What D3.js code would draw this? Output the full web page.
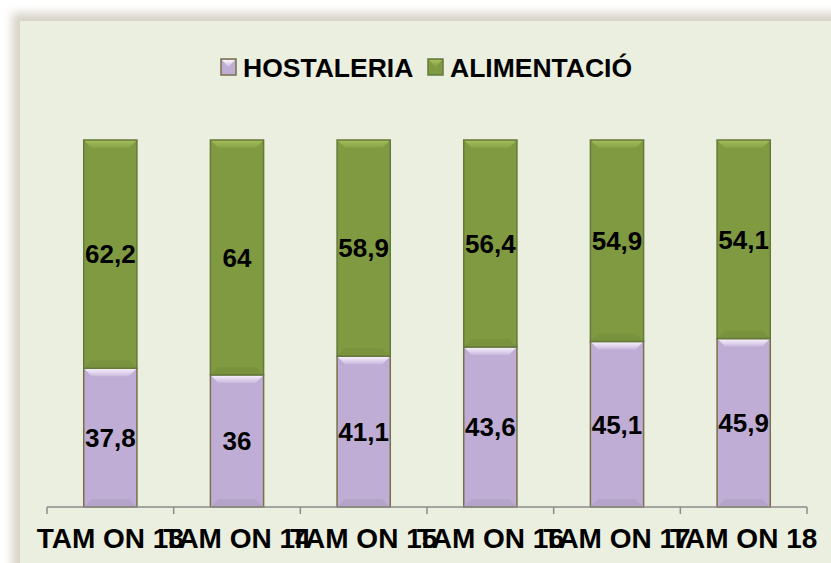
<!DOCTYPE html>
<html lang="en">
    <head>
        <meta charset="utf-8">
        <title>Hostaleria vs Alimentació</title>
        <script type="text/javascript" src="https://cdn.jsdelivr.net/npm/d3@7/dist/d3.min.js"></script>
        <style>
            body { margin: 0; background: #fff; }
            text { font-family: "Liberation Sans", Arial, sans-serif; font-weight: bold; fill: #000; }
        </style>
    </head>
    <body>
        <svg id="chart" width="831" height="563"></svg>
    </body>
    <script>
        // data
        let categories = ["TAM ON 13", "TAM ON 14", "TAM ON 15", "TAM ON 16", "TAM ON 17", "TAM ON 18"];
        let hostaleria = [37.8, 36, 41.1, 43.6, 45.1, 45.9];
        let alimentacio = [62.2, 64, 58.9, 56.4, 54.9, 54.1];
        let seriesNames = ["HOSTALERIA", "ALIMENTACIÓ"];

        let svg = d3.select("#chart");
        let defs = svg.append("defs");

        // soft shadow round the chart area
        let f = defs.append("filter").attr("id", "shadow")
                    .attr("x", "-10%").attr("y", "-10%").attr("width", "120%").attr("height", "120%");
        f.append("feGaussianBlur").attr("stdDeviation", 5);

        function vGrad(id, stops) {
            let g = defs.append("linearGradient").attr("id", id)
                        .attr("x1", 0).attr("y1", 0).attr("x2", 0).attr("y2", 1);
            stops.forEach(s => g.append("stop").attr("offset", s[0]).attr("stop-color", s[1]));
        }
        vGrad("bevelPurple", [[0, "#fbf6ff"], [1, "#c9b9de"]]);
        vGrad("bevelGreen", [[0, "#a6c05c"], [1, "#86a045"]]);

        svg.append("rect").attr("x", 12).attr("y", 13).attr("width", 840).attr("height", 580)
            .attr("fill", "#d8d3c8").attr("filter", "url(#shadow)");
        svg.append("rect").attr("x", 20).attr("y", 21).attr("width", 820).attr("height", 560)
            .attr("fill", "#ebefdf");

        // scales
        let x = d3.scaleBand().domain(categories).range([47, 807]).padding(0);
        let y = d3.scaleLinear().domain([0, 100]).range([507, 140]);
        let barW = x.bandwidth() * 0.42;

        let stack = categories.map((c, i) => ({
            cat: c,
            segs: [
                {key: 0, y0: 0, y1: hostaleria[i], v: hostaleria[i]},
                {key: 1, y0: hostaleria[i], y1: hostaleria[i] + alimentacio[i], v: alimentacio[i]}
            ]
        }));

        let fills = ["#bfadd5", "#809a42"];
        let edges = ["#77704a", "#65793a"];
        let bevels = ["url(#bevelPurple)", "url(#bevelGreen)"];

        let groups = svg.append("g").selectAll("g").data(stack).enter().append("g");

        groups.each(function(d) {
            let bx = x(d.cat) + (x.bandwidth() - barW) / 2;
            let g = d3.select(this);
            d.segs.forEach(s => {
                let top = y(s.y1), bot = y(s.y0), b = 8;
                g.append("rect").attr("x", bx).attr("y", top).attr("width", barW).attr("height", bot - top)
                    .attr("fill", fills[s.key]);
                // top bevel
                g.append("polygon")
                    .attr("points", [[bx, top], [bx + barW, top], [bx + barW - b, top + b], [bx + b, top + b]].join(" "))
                    .attr("fill", bevels[s.key]);
                // bottom bevel (slightly darker)
                g.append("polygon")
                    .attr("points", [[bx, bot], [bx + barW, bot], [bx + barW - b, bot - b], [bx + b, bot - b]].join(" "))
                    .attr("fill", "#000").attr("opacity", 0.05);
                g.append("rect").attr("x", bx).attr("y", top).attr("width", barW).attr("height", bot - top)
                    .attr("fill", "none").attr("stroke", edges[s.key]).attr("stroke-width", 1.5);
                g.append("text")
                    .attr("x", x(d.cat) + x.bandwidth() / 2)
                    .attr("y", (top + bot) / 2)
                    .attr("dy", "0.36em")
                    .attr("text-anchor", "middle")
                    .attr("font-size", 26)
                    .text(String(s.v).replace(".", ","));
            });
        });

        // x axis
        let axis = svg.append("g").attr("stroke", "#8c8c8c").attr("stroke-width", 1.5);
        axis.append("line").attr("x1", 47).attr("x2", 807).attr("y1", 507).attr("y2", 507);
        let ticks = categories.map(c => x(c)).concat([x.range()[1]]);
        axis.selectAll("line.t").data(ticks).enter().append("line")
            .attr("x1", d => d).attr("x2", d => d).attr("y1", 507).attr("y2", 514);

        svg.append("g").selectAll("text").data(categories).enter().append("text")
            .attr("x", d => x(d) + x.bandwidth() / 2)
            .attr("y", 538)
            .attr("dy", "0.36em")
            .attr("text-anchor", "middle")
            .attr("font-size", 28)
            .text(d => d);

        // legend
        let legend = svg.append("g");
        let legX = [221, 428];
        seriesNames.forEach((n, i) => {
            legend.append("rect").attr("x", legX[i]).attr("y", 59).attr("width", 15).attr("height", 16)
                .attr("fill", fills[i]).attr("stroke", edges[i]).attr("stroke-width", 1.5);
            legend.append("polygon")
                .attr("points", [[legX[i] + 1, 60], [legX[i] + 14, 60], [legX[i] + 7.5, 67]].join(" "))
                .attr("fill", bevels[i]);
            legend.append("text").attr("x", legX[i] + 22).attr("y", 67).attr("dy", "0.36em")
                .attr("font-size", 26.5).text(n);
        });
    </script>
</html>
